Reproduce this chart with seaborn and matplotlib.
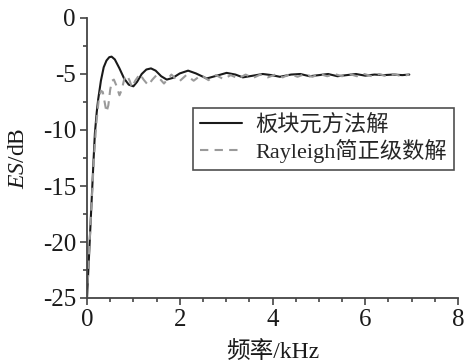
import matplotlib
matplotlib.use("Agg")
import matplotlib.pyplot as plt
from matplotlib.ticker import MultipleLocator
import seaborn as sns
import pandas as pd

# Plate-element method solution
freq_plate = [0.00, 0.05, 0.10, 0.14, 0.17, 0.21, 0.24, 0.30, 0.36, 0.42, 0.48, 0.53,
              0.60, 0.70, 0.80, 0.90, 1.00, 1.08, 1.18, 1.28, 1.38, 1.48, 1.60, 1.72,
              1.85, 2.00, 2.18, 2.35, 2.58, 2.80, 3.01, 3.20, 3.36, 3.58, 3.79, 3.98,
              4.16, 4.40, 4.60, 4.80, 5.00, 5.20, 5.40, 5.60, 5.80, 6.00, 6.20, 6.40,
              6.60, 6.80, 6.95]
es_plate = [-25.0, -20.7, -16.3, -12.8, -10.3, -8.4, -7.3, -5.6, -4.4, -3.8, -3.5, -3.45,
            -3.7, -4.5, -5.4, -5.95, -6.1, -5.7, -5.0, -4.6, -4.5, -4.7, -5.2, -5.5,
            -5.35, -4.95, -4.7, -4.95, -5.4, -5.15, -4.9, -5.05, -5.3, -5.15, -5.0, -5.1,
            -5.25, -5.05, -5.0, -5.2, -5.1, -5.0, -5.2, -5.1, -5.0, -5.15, -5.05, -5.1,
            -5.05, -5.1, -5.05]

# Rayleigh normal-mode series solution
freq_rayleigh = [0.00, 0.05, 0.10, 0.15, 0.20, 0.25, 0.30, 0.34, 0.38, 0.42, 0.46, 0.50,
                 0.54, 0.58, 0.63, 0.70, 0.75, 0.80, 0.86, 0.92, 0.97, 1.04, 1.14, 1.22,
                 1.32, 1.41, 1.50, 1.66, 1.82, 1.98, 2.14, 2.30, 2.46, 2.62, 2.78, 2.94,
                 3.10, 3.26, 3.42, 3.58, 3.74, 3.90, 4.06, 4.22, 4.38, 4.54, 4.70, 4.86,
                 5.02, 5.18, 5.34, 5.50, 5.66, 5.82, 5.98, 6.14, 6.30, 6.46, 6.62, 6.78,
                 6.95]
es_rayleigh = [-25.0, -20.5, -16.5, -12.5, -9.5, -7.4, -6.5, -6.6, -7.5, -8.4, -7.8, -6.4,
               -5.6, -5.5, -6.0, -6.9, -6.4, -5.5, -5.1, -5.6, -6.2, -5.6, -5.0, -5.5,
               -6.0, -5.5, -5.1, -5.85, -5.05, -5.7, -5.1, -5.6, -5.1, -5.55, -5.1, -5.45,
               -5.1, -5.4, -5.05, -5.35, -5.05, -5.3, -5.05, -5.3, -5.0, -5.25, -5.0, -5.25,
               -5.0, -5.2, -5.0, -5.2, -5.0, -5.2, -5.0, -5.2, -5.0, -5.2, -5.0, -5.2,
               -5.05]

label_plate = "板块元方法解"
label_rayleigh = "Rayleigh简正级数解"

x_ticks = [0, 2, 4, 6, 8]
y_ticks = [0, -5, -10, -15, -20, -25]

sns.set_theme(style="ticks")
plt.rcParams["font.family"] = ["Liberation Serif", "Noto Sans CJK SC"]
plt.rcParams["mathtext.fontset"] = "custom"
plt.rcParams["mathtext.rm"] = "Liberation Serif"
plt.rcParams["mathtext.it"] = "Liberation Serif:italic"
plt.rcParams["axes.unicode_minus"] = False

df_plate = pd.DataFrame({"f": freq_plate, "es": es_plate})
df_ray = pd.DataFrame({"f": freq_rayleigh, "es": es_rayleigh})

fig = plt.figure(figsize=(4.67, 3.64), dpi=100)
ax = fig.add_axes([87 / 467, 1 - 298 / 364, 371 / 467, 280 / 364])

sns.lineplot(data=df_plate, x="f", y="es", ax=ax, sort=False, estimator=None,
             color="#1a1a1a", linewidth=1.5, label=label_plate)
sns.lineplot(data=df_ray, x="f", y="es", ax=ax, sort=False, estimator=None,
             color="#9a9a9a", linewidth=1.5, label=label_rayleigh)
ax.lines[1].set_dashes((4, 3))

ax.set_xlim(0, 8)
ax.set_ylim(-25, 0)
ax.set_xticks(x_ticks)
ax.set_yticks(y_ticks)
ax.xaxis.set_minor_locator(MultipleLocator(0.5))
ax.yaxis.set_minor_locator(MultipleLocator(2.5))
ax.tick_params(axis="both", which="major", labelsize=18, length=5, width=1.2,
               color="#444444", labelcolor="#1a1a1a", direction="out", pad=3)
ax.tick_params(axis="both", which="minor", length=3, width=1.2, color="#444444",
               direction="out")
ax.set_yticklabels([str(v) for v in y_ticks])

for side in ("top", "right"):
    ax.spines[side].set_visible(False)
for side in ("left", "bottom"):
    ax.spines[side].set_linewidth(1.3)
    ax.spines[side].set_color("#444444")

ax.set_xlabel("频率/kHz", fontsize=17, labelpad=7, color="#1a1a1a")
ax.set_ylabel(r"$ES$/dB", fontsize=17, labelpad=10, color="#1a1a1a")

leg = ax.legend(loc="upper left", bbox_to_anchor=(0.286, 0.679), borderaxespad=0,
                fontsize=16, frameon=True, fancybox=False, handlelength=1.9,
                handletextpad=0.6, borderpad=0.3, labelspacing=0.15)
leg.get_frame().set_edgecolor("#222222")
leg.get_frame().set_linewidth(1.2)

fig.savefig("out.png", dpi=100)
